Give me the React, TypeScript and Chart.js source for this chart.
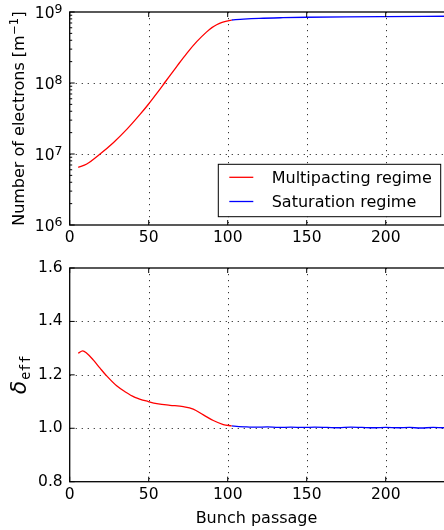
import React, { useEffect, useRef } from 'react';
import { Chart, registerables } from 'chart.js';
Chart.register(...registerables);

const FAMILY = "'DejaVu Sans', sans-serif";

// ---- data ----
const topMultiX = [5.4, 10.8, 19.2, 27.6, 36.1, 44.5, 49.7, 55.1, 60.9, 67.7, 74.1, 80.4, 86.7, 90.0, 93.0, 96.0, 99.4, 102.5];
const topMultiY = [6.5e6, 7.23e6, 1.0e7, 1.445e7, 2.22e7, 3.61e7, 4.98e7, 7.14e7, 1.067e8, 1.706e8, 2.62e8, 3.82e8, 5.25e8, 6.03e8, 6.61e8, 7.08e8, 7.46e8, 7.71e8];
const topSatX = [102.5, 110, 120, 135, 150, 175, 200, 225, 250];
const topSatY = [7.71e8, 7.94e8, 8.15e8, 8.32e8, 8.43e8, 8.55e8, 8.63e8, 8.69e8, 8.73e8];

const botMultiX = [5.4, 8.2, 10.8, 14.9, 19.2, 23.4, 29.7, 35.0, 41.3, 49.7, 56.1, 63.5, 71.9, 78.2, 84.6, 90.9, 97.2, 102.5];
const botMultiY = [1.281, 1.29, 1.281, 1.256, 1.225, 1.196, 1.159, 1.137, 1.116, 1.1, 1.091, 1.086, 1.081, 1.072, 1.05, 1.029, 1.014, 1.009];
const botSatX = [102.5, 107, 112, 118, 125, 132, 140, 148, 155, 163, 170, 178, 185, 193, 200, 208, 215, 222, 230, 237, 245, 250];
const botSatY = [1.009, 1.006, 1.005, 1.004, 1.005, 1.003, 1.004, 1.003, 1.004, 1.003, 1.002, 1.004, 1.003, 1.002, 1.003, 1.002, 1.003, 1.001, 1.003, 1.002, 1.002, 1.002];

const seriesLabels = ['Multipacting regime', 'Saturation regime'];
const seriesColors = ['#ff0000', '#0000ff'];

// ---- ticks ----
const xTickValues = [0, 50, 100, 150, 200];
const xMajor = [0, 50, 100, 150, 200, 250];
const xGrid = [50, 100, 150, 200];
const topYMajor = [1e6, 1e7, 1e8, 1e9];
const topYExp = ['6', '7', '8', '9'];
const topYMinor = [2e6, 3e6, 4e6, 5e6, 6e6, 7e6, 8e6, 9e6, 2e7, 3e7, 4e7, 5e7, 6e7, 7e7, 8e7, 9e7, 2e8, 3e8, 4e8, 5e8, 6e8, 7e8, 8e8, 9e8];
const topYGrid = [1e7, 1e8];
const botYTicks = [0.8, 1.0, 1.2, 1.4, 1.6];
const botYLabels = ['0.8', '1.0', '1.2', '1.4', '1.6'];
const botYGrid = [1.0, 1.2, 1.4];

const toPoints = (xs: number[], ys: number[]) => xs.map((x, i) => ({ x, y: ys[i] }));

type Decor = {
  xMajor: number[];
  yMajor: number[];
  yMinor: number[];
  gridX: number[];
  gridY: number[];
  extra: (chart: any) => void;
};

function decorPlugin(d: Decor) {
  return {
    id: 'decor',
    beforeDatasetsDraw(chart: any) {
      const { ctx, chartArea: ca, scales } = chart;
      ctx.save();
      ctx.strokeStyle = 'rgba(0,0,0,0.8)';
      ctx.lineWidth = 1;
      ctx.setLineDash([1.2, 4.8]);
      for (const v of d.gridX) {
        const px = Math.round(scales.x.getPixelForValue(v)) + 0.5;
        ctx.beginPath();
        ctx.moveTo(px, ca.top);
        ctx.lineTo(px, ca.bottom);
        ctx.stroke();
      }
      for (const v of d.gridY) {
        const py = Math.round(scales.y.getPixelForValue(v)) + 0.5;
        ctx.beginPath();
        ctx.moveTo(ca.left, py);
        ctx.lineTo(ca.right, py);
        ctx.stroke();
      }
      ctx.restore();
    },
    afterDatasetsDraw(chart: any) {
      const { ctx, chartArea: ca, scales } = chart;
      ctx.save();
      ctx.strokeStyle = '#000';
      ctx.lineWidth = 1.3;
      ctx.strokeRect(ca.left, ca.top, ca.right - ca.left, ca.bottom - ca.top);
      ctx.lineWidth = 1;
      ctx.beginPath();
      for (const v of d.xMajor) {
        const px = scales.x.getPixelForValue(v);
        ctx.moveTo(px, ca.bottom);
        ctx.lineTo(px, ca.bottom - 5);
        ctx.moveTo(px, ca.top);
        ctx.lineTo(px, ca.top + 5);
      }
      for (const v of d.yMajor) {
        const py = scales.y.getPixelForValue(v);
        ctx.moveTo(ca.left, py);
        ctx.lineTo(ca.left + 5, py);
        ctx.moveTo(ca.right, py);
        ctx.lineTo(ca.right - 5, py);
      }
      for (const v of d.yMinor) {
        const py = scales.y.getPixelForValue(v);
        ctx.moveTo(ca.left, py);
        ctx.lineTo(ca.left + 2.5, py);
        ctx.moveTo(ca.right, py);
        ctx.lineTo(ca.right - 2.5, py);
      }
      ctx.stroke();
      ctx.restore();
      d.extra(chart);
    },
  };
}

function drawTopExtras(chart: any) {
  const { ctx, chartArea: ca, scales } = chart;
  ctx.save();
  ctx.fillStyle = '#000';
  ctx.textAlign = 'left';
  ctx.textBaseline = 'alphabetic';
  // log tick labels
  topYMajor.forEach((v, i) => {
    const y = scales.y.getPixelForValue(v);
    ctx.font = `12.5px ${FAMILY}`;
    const w2 = ctx.measureText(topYExp[i]).width;
    ctx.font = `15.5px ${FAMILY}`;
    const w1 = ctx.measureText('10').width;
    const x0 = ca.left - 7.2 - w2 - w1;
    ctx.fillText('10', x0, y + 5.6);
    ctx.font = `12.5px ${FAMILY}`;
    ctx.fillText(topYExp[i], x0 + w1, y + 0.7);
  });
  // y title
  const cy = (ca.top + ca.bottom) / 2;
  ctx.font = `16px ${FAMILY}`;
  const a = 'Number of electrons [m';
  const wa = ctx.measureText(a).width;
  const wc = ctx.measureText(']').width;
  ctx.font = `11.5px ${FAMILY}`;
  const b = '\u22121';
  const wb = ctx.measureText(b).width;
  const total = wa + wb + 1 + wc;
  ctx.translate(24, cy + total / 2);
  ctx.rotate(-Math.PI / 2);
  ctx.font = `16px ${FAMILY}`;
  ctx.fillText(a, 0, 0);
  ctx.font = `11.5px ${FAMILY}`;
  ctx.fillText(b, wa + 0.5, -6);
  ctx.font = `16px ${FAMILY}`;
  ctx.fillText(']', wa + wb + 1, 0);
  ctx.restore();

  // legend
  ctx.save();
  const left = ca.left + 148.6;
  const right = ca.left + 371;
  const bottom = ca.bottom - 8.3;
  const top = ca.bottom - 60.7;
  ctx.fillStyle = '#fff';
  ctx.fillRect(left, top, right - left, bottom - top);
  ctx.strokeStyle = '#000';
  ctx.lineWidth = 1;
  ctx.strokeRect(left, top, right - left, bottom - top);
  const rows = [top + 13, top + 37.2];
  ctx.font = `16px ${FAMILY}`;
  ctx.textBaseline = 'alphabetic';
  ctx.textAlign = 'left';
  rows.forEach((ry, i) => {
    ctx.strokeStyle = seriesColors[i];
    ctx.lineWidth = 1.3;
    ctx.beginPath();
    ctx.moveTo(left + 11, ry);
    ctx.lineTo(left + 35, ry);
    ctx.stroke();
    ctx.fillStyle = '#000';
    ctx.fillText(seriesLabels[i], left + 53.4, ry + 5.8);
  });
  ctx.restore();
}

function drawBottomExtras(chart: any) {
  const { ctx, chartArea: ca } = chart;
  ctx.save();
  ctx.fillStyle = '#000';
  ctx.textBaseline = 'alphabetic';
  // x title
  ctx.font = `16px ${FAMILY}`;
  ctx.textAlign = 'center';
  ctx.fillText('Bunch passage', 256.5, 272.7);
  // y title
  const cy = (ca.top + ca.bottom) / 2;
  ctx.textAlign = 'left';
  ctx.font = `italic 22px ${FAMILY}`;
  const wd = ctx.measureText('\u03b4').width;
  ctx.font = `13.5px 'DejaVu Sans Mono', monospace`;
  const we = ctx.measureText('eff').width;
  const total = wd + 1 + we;
  ctx.translate(26, cy + total / 2);
  ctx.rotate(-Math.PI / 2);
  ctx.font = `italic 22px ${FAMILY}`;
  ctx.fillText('\u03b4', 0, 0);
  ctx.font = `13.5px 'DejaVu Sans Mono', monospace`;
  ctx.fillText('eff', wd + 1, 4);
  ctx.restore();
}

function xScale(height: number) {
  return {
    type: 'linear' as const,
    min: 0,
    max: 250,
    afterBuildTicks: (s: any) => {
      s.ticks = xTickValues.map((v) => ({ value: v }));
    },
    afterFit: (s: any) => {
      s.height = height;
    },
    ticks: {
      callback: (v: any) => String(v),
      font: { size: 15.5, family: FAMILY },
      color: '#000',
      padding: 3.5,
      maxRotation: 0,
      autoSkip: false,
    },
    grid: { display: false, drawTicks: false },
    border: { display: false },
  };
}

export default function App() {
  const topRef = useRef<HTMLCanvasElement>(null);
  const botRef = useRef<HTMLCanvasElement>(null);

  useEffect(() => {
    const lineDs = (label: string, color: string, pts: any[]) => ({
      label,
      data: pts,
      borderColor: color,
      backgroundColor: color,
      borderWidth: 1.3,
      pointRadius: 0,
      cubicInterpolationMode: 'monotone' as const,
      fill: false,
    });

    const top = new Chart(topRef.current!, {
      type: 'line',
      data: {
        datasets: [
          lineDs(seriesLabels[0], seriesColors[0], toPoints(topMultiX, topMultiY)),
          lineDs(seriesLabels[1], seriesColors[1], toPoints(topSatX, topSatY)),
        ],
      },
      options: {
        responsive: false,
        animation: false,
        devicePixelRatio: 1,
        layout: { padding: { top: 12, left: 0, right: 5.3, bottom: 0 } },
        plugins: { legend: { display: false }, tooltip: { enabled: false } },
        scales: {
          x: xScale(25),
          y: {
            type: 'logarithmic',
            min: 1e6,
            max: 1e9,
            afterFit: (s: any) => {
              s.width = 69.7;
            },
            ticks: { display: false },
            grid: { display: false, drawTicks: false },
            border: { display: false },
          },
        },
      } as any,
      plugins: [
        decorPlugin({
          xMajor,
          yMajor: topYMajor,
          yMinor: topYMinor,
          gridX: xGrid,
          gridY: topYGrid,
          extra: drawTopExtras,
        }),
      ],
    });

    const bot = new Chart(botRef.current!, {
      type: 'line',
      data: {
        datasets: [
          lineDs(seriesLabels[0], seriesColors[0], toPoints(botMultiX, botMultiY)),
          lineDs(seriesLabels[1], seriesColors[1], toPoints(botSatX, botSatY)),
        ],
      },
      options: {
        responsive: false,
        animation: false,
        devicePixelRatio: 1,
        layout: { padding: { top: 18, left: 0, right: 5.3, bottom: 0 } },
        plugins: { legend: { display: false }, tooltip: { enabled: false } },
        scales: {
          x: xScale(48.3),
          y: {
            type: 'linear',
            min: 0.8,
            max: 1.6,
            afterBuildTicks: (s: any) => {
              s.ticks = botYTicks.map((v) => ({ value: v }));
            },
            afterFit: (s: any) => {
              s.width = 69.7;
            },
            ticks: {
              callback: (_v: any, i: number) => botYLabels[i],
              font: { size: 15.5, family: FAMILY },
              color: '#000',
              padding: 7,
            },
            grid: { display: false, drawTicks: false },
            border: { display: false },
          },
        },
      } as any,
      plugins: [
        decorPlugin({
          xMajor,
          yMajor: botYTicks,
          yMinor: [],
          gridX: xGrid,
          gridY: botYGrid,
          extra: drawBottomExtras,
        }),
      ],
    });

    return () => {
      top.destroy();
      bot.destroy();
    };
  }, []);

  return (
    <div
      style={{
        position: 'fixed',
        left: 0,
        top: 0,
        width: 444,
        height: 530,
        overflow: 'hidden',
        background: '#fff',
      }}
    >
      <canvas ref={topRef} width={470} height={250} style={{ position: 'absolute', left: 0, top: 0 }} />
      <canvas ref={botRef} width={470} height={280} style={{ position: 'absolute', left: 0, top: 250 }} />
    </div>
  );
}
